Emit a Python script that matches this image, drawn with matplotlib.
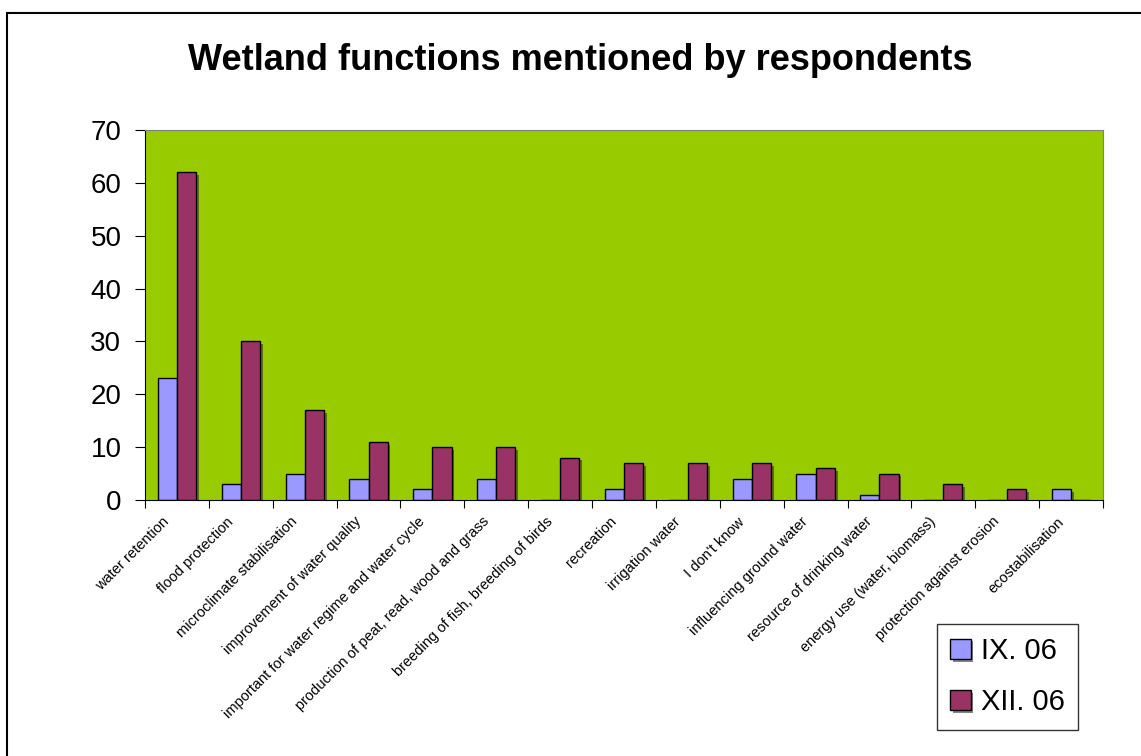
import matplotlib.pyplot as plt
import matplotlib.patheffects as pe
from matplotlib.patches import Rectangle
import numpy as np

plt.rcParams['font.family'] = ['Liberation Sans', 'DejaVu Sans']

categories = ['water retention', 'flood protection', 'microclimate stabilisation',
              'improvement of water quality', 'important for water regime and water cycle',
              'production of peat, read, wood and grass', 'breeding of fish, breeding of birds',
              'recreation', 'irrigation water', "I don't know", 'influencing ground water',
              'resource of drinking water', 'energy use (water, biomass)',
              'protection against erosion', 'ecostabilisation']
ix_06 = [23, 3, 5, 4, 2, 4, 0, 2, 0, 4, 5, 1, 0, 0, 2]
xii_06 = [62, 30, 17, 11, 10, 10, 8, 7, 7, 7, 6, 5, 3, 2, 0]

W, H = 1141, 756
fig = plt.figure(figsize=(W / 100, H / 100), dpi=100)
fig.patches.append(Rectangle((7 / W, -0.05), 1.1, 1 - 13 / H + 0.05,
                             transform=fig.transFigure, fill=False,
                             edgecolor='black', linewidth=1.5))

ax = fig.add_axes([145 / W, 1 - 500 / H, (1103 - 145) / W, (500 - 130) / H])
ax.set_facecolor('#99CC00')

x = np.arange(len(categories))
w = 0.3
shadow = [pe.withSimplePatchShadow(offset=(2, -2), shadow_rgbFace='#333333', alpha=0.6)]
ax.bar(x - w / 2, ix_06, w, color='#9999FF', edgecolor='black', linewidth=1,
       label='IX. 06', path_effects=shadow)
ax.bar(x + w / 2, xii_06, w, color='#993366', edgecolor='black', linewidth=1,
       label='XII. 06', path_effects=shadow)

ax.set_xlim(-0.5, len(categories) - 0.5)
ax.set_ylim(0, 70)
ax.set_yticks(range(0, 71, 10))
ax.tick_params(axis='y', labelsize=20, length=7, direction='out', pad=10)

ax.set_xticks(np.arange(len(categories) + 1) - 0.5)
ax.set_xticklabels([])
ax.tick_params(axis='x', length=6, direction='out')
for i, lab in enumerate(categories):
    ax.annotate(lab, xy=(i, 0), xycoords=('data', 'axes fraction'),
                xytext=(-7, -14), textcoords='offset points',
                rotation=45, rotation_mode='anchor', ha='right', va='center',
                fontsize=10.5)

for s in ['top', 'right']:
    ax.spines[s].set_color('#808080')
for s in ['left', 'bottom']:
    ax.spines[s].set_color('black')

fig.text(580 / W, 1 - 60 / H, 'Wetland functions mentioned by respondents',
         ha='center', va='center', fontsize=26, fontweight='bold')

leg = fig.legend(loc='upper left', bbox_to_anchor=(937 / W, 1 - 624 / H),
                 fontsize=21, frameon=True, fancybox=False, edgecolor='black',
                 handlelength=0.7, handleheight=0.7, handletextpad=0.35,
                 labelspacing=0.8, borderpad=0.45, borderaxespad=0, shadow=False)
leg.get_frame().set_linewidth(1)

fig.savefig('out.png', dpi=100)
